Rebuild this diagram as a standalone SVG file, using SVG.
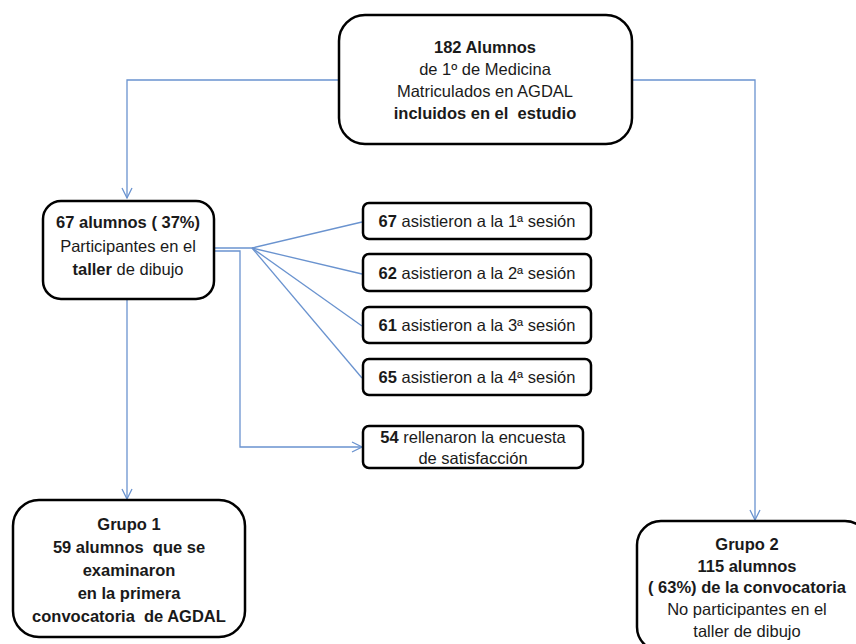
<svg xmlns="http://www.w3.org/2000/svg" width="856" height="644" viewBox="0 0 856 644">
<defs>
<style>
.box{fill:#fff;stroke:#000;stroke-width:2.5}
.t{font-family:"Liberation Sans",Arial,sans-serif;font-size:16.5px;fill:#1a1a1a;text-anchor:middle}
.b{font-weight:bold}
.c{fill:none;stroke:#6a93cf;stroke-width:1.3}
</style>
<marker id="ah" viewBox="0 0 12 12" refX="11" refY="6" markerWidth="12" markerHeight="12" markerUnits="userSpaceOnUse" orient="auto">
<path d="M1,1 L11,6 L1,11" fill="none" stroke="#6a93cf" stroke-width="1.3"/>
</marker>
</defs>
<g id="connectors">
<path class="c" d="M339,80 H127 V198" marker-end="url(#ah)"/>
<path class="c" d="M632,80 H755 V520" marker-end="url(#ah)"/>
<path class="c" d="M127,299 V499" marker-end="url(#ah)"/>
<path class="c" d="M214,248 H252"/>
<path class="c" d="M214,251 H240 V447 H362" marker-end="url(#ah)"/>
<path class="c" d="M252,248 L362,222"/>
<path class="c" d="M252,248 L362,274"/>
<path class="c" d="M252,248 L362,326"/>
<path class="c" d="M252,248 L362,378"/>
</g>
<g id="n-top">
<rect class="box" x="339" y="15" width="293" height="129" rx="26"/>
<text class="t b" x="485" y="53">182 Alumnos</text>
<text class="t" x="485" y="75">de 1º de Medicina</text>
<text class="t" x="485" y="97">Matriculados en AGDAL</text>
<text class="t b" x="485" y="119" xml:space="preserve">incluidos en el  estudio</text>
</g>
<g id="n-67">
<rect class="box" x="43" y="201" width="171" height="98" rx="18"/>
<text class="t b" x="128" y="228">67 alumnos ( 37%)</text>
<text class="t" x="128" y="252">Participantes en el</text>
<text class="t" x="128" y="275"><tspan class="b">taller</tspan> de dibujo</text>
</g>
<g id="n-s1">
<rect class="box" x="363" y="203" width="228" height="36" rx="6"/>
<text class="t" x="477" y="227"><tspan class="b">67</tspan> asistieron a la 1ª sesión</text>
</g>
<g id="n-s2">
<rect class="box" x="363" y="254" width="228" height="37" rx="6"/>
<text class="t" x="477" y="279"><tspan class="b">62</tspan> asistieron a la 2ª sesión</text>
</g>
<g id="n-s3">
<rect class="box" x="363" y="307" width="228" height="36" rx="6"/>
<text class="t" x="477" y="331"><tspan class="b">61</tspan> asistieron a la 3ª sesión</text>
</g>
<g id="n-s4">
<rect class="box" x="363" y="359" width="228" height="36" rx="6"/>
<text class="t" x="477" y="383"><tspan class="b">65</tspan> asistieron a la 4ª sesión</text>
</g>
<g id="n-survey">
<rect class="box" x="363" y="426" width="220" height="42" rx="6"/>
<text class="t" x="473" y="443"><tspan class="b">54</tspan> rellenaron la encuesta</text>
<text class="t" x="473" y="464">de satisfacción</text>
</g>
<g id="n-g1">
<rect class="box" x="13" y="500" width="232" height="137" rx="26"/>
<text class="t b" x="129" y="530">Grupo 1</text>
<text class="t b" x="129" y="553" xml:space="preserve">59 alumnos  que se</text>
<text class="t b" x="129" y="576">examinaron</text>
<text class="t b" x="129" y="599">en la primera</text>
<text class="t b" x="129" y="622" xml:space="preserve">convocatoria  de AGDAL</text>
</g>
<g id="n-g2">
<rect class="box" x="637" y="521" width="232" height="130" rx="24"/>
<text class="t b" x="747" y="550">Grupo 2</text>
<text class="t b" x="747" y="572">115 alumnos</text>
<text class="t b" x="747" y="593">( 63%) de la convocatoria</text>
<text class="t" x="747" y="615">No participantes en el</text>
<text class="t" x="747" y="637">taller de dibujo</text>
</g>
</svg>
